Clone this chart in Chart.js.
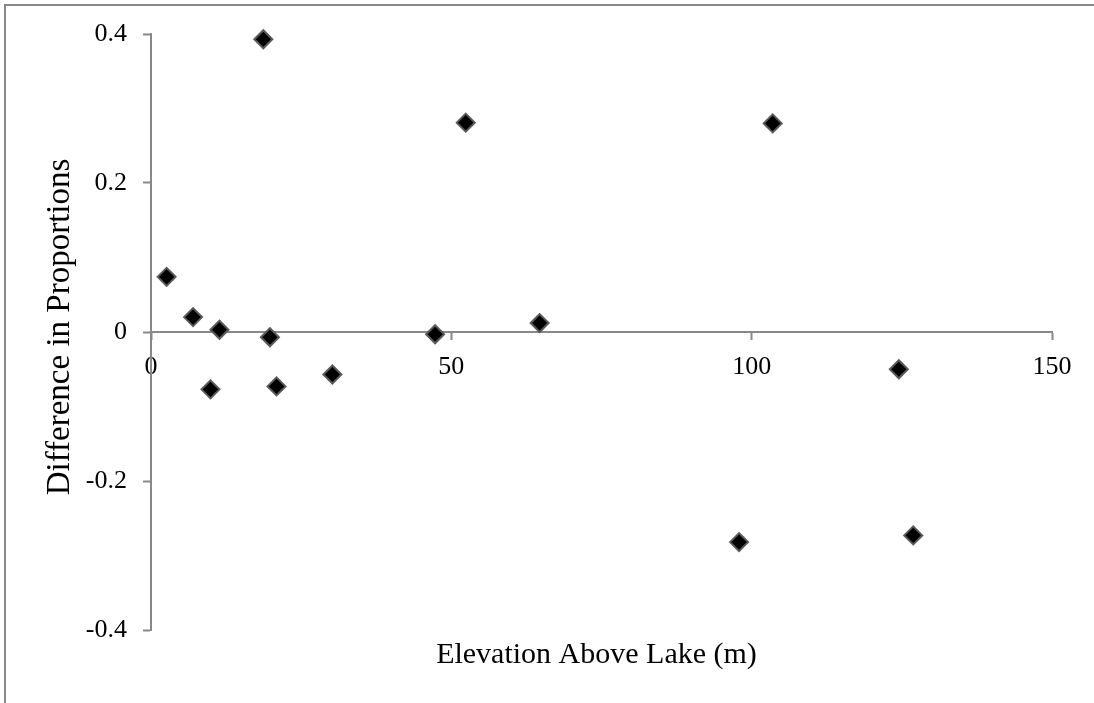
<!DOCTYPE html>
<html lang="en">
<head>
    <meta charset="UTF-8">
    <title>Difference in Proportions vs Elevation</title>
    <script src="https://cdn.jsdelivr.net/npm/chart.js"></script>
    <style>
        body {
            margin: 0;
            background-color: white;
        }
        #wrap {
            width: 1094px;
            height: 703px;
        }
    </style>
</head>
<body>
    <div id="wrap">
        <canvas id="scatter"></canvas>
    </div>

    <script>
        // values
        const elevation = [2.6, 7.0, 9.9, 11.4, 18.7, 19.8, 20.9, 30.2, 47.3, 52.4, 64.7, 97.9, 103.5, 124.5, 126.9];
        const difference = [0.074, 0.020, -0.077, 0.003, 0.393, -0.007, -0.073, -0.057, -0.003, 0.281, 0.012, -0.282, 0.280, -0.050, -0.273];

        const xTicks = [0, 50, 100, 150];
        const yTicks = [-0.4, -0.2, 0, 0.2, 0.4];

        const xTitle = 'Elevation Above Lake (m)';
        const yTitle = 'Difference in Proportions';

        const axisGrey = '#888888';
        const serif = '"Liberation Serif", "Times New Roman", serif';

        // outer frame + axis titles (titles sit at the edges, not next to the crossing axes)
        const framePlugin = {
            id: 'frame',
            afterDraw(chart) {
                const { ctx, chartArea } = chart;
                ctx.save();
                ctx.strokeStyle = axisGrey;
                ctx.lineWidth = 2;
                ctx.beginPath();
                ctx.moveTo(5, chart.height);
                ctx.lineTo(5, 5);
                ctx.lineTo(chart.width, 5);
                ctx.stroke();

                ctx.fillStyle = '#000';
                ctx.textAlign = 'center';
                ctx.textBaseline = 'alphabetic';
                ctx.font = '30px ' + serif;
                ctx.fillText(xTitle, (chartArea.left + chartArea.right) / 2 - 5, chartArea.bottom + 33);

                ctx.font = '33px ' + serif;
                ctx.translate(69, (chartArea.top + chartArea.bottom) / 2 - 5);
                ctx.rotate(-Math.PI / 2);
                ctx.fillText(yTitle, 0, 0);
                ctx.restore();
            }
        };

        const points = elevation.map((x, i) => ({ x: x, y: difference[i] }));

        new Chart(document.getElementById('scatter'), {
            type: 'scatter',
            data: {
                datasets: [{
                    data: points,
                    clip: false,
                    pointStyle: 'rectRot',
                    pointRadius: 9,
                    pointHoverRadius: 9,
                    backgroundColor: '#000000',
                    borderColor: '#5a5a5a',
                    borderWidth: 2
                }]
            },
            options: {
                responsive: true,
                maintainAspectRatio: false,
                animation: false,
                layout: {
                    padding: { left: 51, right: 42, top: 34, bottom: 73 }
                },
                plugins: {
                    legend: { display: false },
                    tooltip: { enabled: false }
                },
                scales: {
                    x: {
                        type: 'linear',
                        position: { y: 0 },
                        min: xTicks[0],
                        max: xTicks[xTicks.length - 1],
                        afterBuildTicks: (s) => { s.ticks = xTicks.map(v => ({ value: v })); },
                        border: { color: axisGrey, width: 2 },
                        grid: { drawOnChartArea: false, color: axisGrey, tickLength: 7, tickWidth: 2 },
                        ticks: {
                            color: '#000',
                            font: { family: serif, size: 26 },
                            padding: 13,
                            maxRotation: 0
                        }
                    },
                    y: {
                        type: 'linear',
                        position: 'left',
                        min: yTicks[0],
                        max: yTicks[yTicks.length - 1],
                        afterBuildTicks: (s) => { s.ticks = yTicks.map(v => ({ value: v })); },
                        afterFit: (s) => { s.width = 100; },
                        border: { color: axisGrey, width: 2 },
                        grid: { drawOnChartArea: false, color: axisGrey, tickLength: 8, tickWidth: 2 },
                        ticks: {
                            color: '#000',
                            font: { family: serif, size: 26 },
                            padding: 16
                        }
                    }
                }
            },
            plugins: [framePlugin]
        });
    </script>
</body>
</html>
